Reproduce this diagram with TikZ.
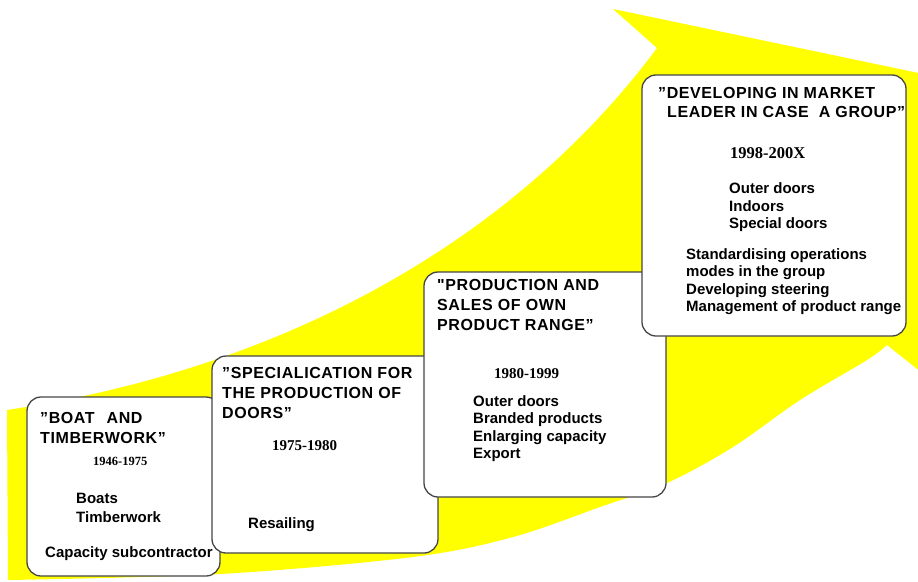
\documentclass[tikz,border=0pt]{standalone}
\usepackage{fontspec}
\setmainfont{Liberation Sans}
\newfontfamily\titlefont{Liberation Sans}[LetterSpace=3.7]
\newfontfamily\yearfont{Liberation Serif}
\definecolor{arrowyellow}{RGB}{255,255,0}
\definecolor{boxline}{RGB}{70,70,70}
\begin{document}
\begin{tikzpicture}[x=1pt,y=-1pt,
  stagebox/.style={draw=boxline, line width=1.3pt, fill=white, rounded corners=14pt,
    anchor=north west, inner sep=0pt, outer sep=0pt},
  headline/.style={anchor=base west, inner sep=0pt,
    font=\titlefont\bfseries\fontsize{16}{19}\selectfont},
  period/.style={anchor=base west, inner sep=0pt,
    font=\yearfont\bfseries\fontsize{15}{18}\selectfont},
  item/.style={anchor=base west, inner sep=0pt,
    font=\bfseries\fontsize{15}{18}\selectfont},
]
\useasboundingbox (0,0) rectangle (918,581);

% big rising arrow behind the stages
\begin{scope}
  \clip (0,0) rectangle (918,581);
  \fill[arrowyellow]
    (7,410) .. controls (307,365) and (527,223.5) .. (657,48)
    -- (613,9) -- (1100,111) -- (1000,435) -- (887,345)
    -- plot[smooth, tension=0.55] coordinates {(887,345) (867,360) (800,400) (733,447)
      (667,483) (600,507) (513,537) (413,557) (220,574) (8,580)}
    -- cycle;
\end{scope}

% stage 1
\node[stagebox, minimum width=193pt, minimum height=179pt] (s1) at (27,397) {};
\node[headline] (s1t1) at (40,423) {”BOAT\hspace{12pt}AND};
\node[headline] (s1t2) at (40,443) {TIMBERWORK”};
\node[period, font=\yearfont\bfseries\fontsize{12.5}{15}\selectfont] (s1y) at (93,465) {1946-1975};
\node[item] (s1a) at (76,503) {Boats};
\node[item] (s1b) at (76,522) {Timberwork};
\node[item] (s1c) at (45,557) {Capacity subcontractor};

% stage 2
\node[stagebox, minimum width=226pt, minimum height=197pt] (s2) at (212,356) {};
\node[headline] (s2t1) at (222,378) {”SPECIALICATION FOR};
\node[headline] (s2t2) at (222,398) {THE PRODUCTION OF};
\node[headline] (s2t3) at (222,418) {DOORS”};
\node[period] (s2y) at (272,450) {1975-1980};
\node[item] (s2a) at (248,528) {Resailing};

% stage 3
\node[stagebox, minimum width=242pt, minimum height=225pt] (s3) at (424,272) {};
\node[headline] (s3t1) at (437,290) {"PRODUCTION AND};
\node[headline] (s3t2) at (437,310) {SALES OF OWN};
\node[headline] (s3t3) at (437,330) {PRODUCT RANGE”};
\node[period] (s3y) at (494,378) {1980-1999};
\node[item] (s3a) at (473,406) {Outer doors};
\node[item] (s3b) at (473,423.5) {Branded products};
\node[item] (s3c) at (473,441) {Enlarging capacity};
\node[item] (s3d) at (473,458.5) {Export};

% stage 4
\node[stagebox, minimum width=264pt, minimum height=261pt] (s4) at (642,75) {};
\node[headline] (s4t1) at (658,98) {”DEVELOPING IN MARKET};
\node[headline] (s4t2) at (667,117) {LEADER IN CASE\ \ A GROUP”};
\node[period, font=\yearfont\bfseries\fontsize{16.5}{19}\selectfont] (s4y) at (730,158) {1998-200X};
\node[item] (s4a) at (729,193) {Outer doors};
\node[item] (s4b) at (729,211) {Indoors};
\node[item] (s4c) at (729,228.5) {Special doors};
\node[item] (s4d) at (686,259) {Standardising operations};
\node[item] (s4e) at (686,276.5) {modes in the group};
\node[item] (s4f) at (686,294) {Developing steering};
\node[item] (s4g) at (686,311.5) {Management of product range};
\end{tikzpicture}
\end{document}
